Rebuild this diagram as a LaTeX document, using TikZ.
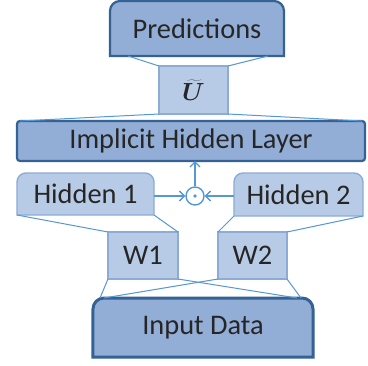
\documentclass[tikz,border=0pt]{standalone}
\usepackage{fontspec}
\setmainfont{Carlito}
\usetikzlibrary{arrows.meta,backgrounds}
\definecolor{darkfill}{RGB}{146,173,214}
\definecolor{darkline}{RGB}{52,98,148}
\definecolor{lightfill}{RGB}{184,203,230}
\definecolor{lightline}{RGB}{140,172,214}
\definecolor{conn}{RGB}{86,152,212}
\newcommand\topround[3]{\path[#2] (#1.south west) -- ([yshift=-#3]#1.north west) arc[start angle=180,end angle=90,radius=#3] -- ([xshift=-#3]#1.north east) arc[start angle=90,end angle=0,radius=#3] -- (#1.south east) -- cycle;}
\begin{document}
\begin{tikzpicture}[x=1bp,y=-1bp,
  box/.style={inner sep=0pt,outer sep=0pt,font=\fontsize{28.5}{31}\selectfont,text=black!85},
  ubox/.style={box,font=\fontsize{24}{28}\selectfont\mathversion{bold}},
  darkbox/.style={fill=darkfill,draw=darkline,line width=2.2bp},
  lightbox/.style={fill=lightfill,draw=lightline,line width=1.4bp},
  conline/.style={draw=conn,line width=1bp},
  arr/.style={draw=conn,line width=1.4bp,-{Straight Barb[length=5bp,width=10bp]}}]
\useasboundingbox (0,0) rectangle (368,366);
\node[box,minimum width=174bp,minimum height=55bp] (pred) at (197,28.5) {Predictions};
\node[ubox,minimum width=69bp,minimum height=48bp] (u) at (193.5,90) {$\widetilde{U}$};
\node[box,minimum width=348bp,minimum height=40bp] (impl) at (191,141) {Implicit Hidden Layer};
\node[box,minimum width=137bp,minimum height=42bp] (h1) at (85.5,194) {Hidden 1};
\node[box,minimum width=129bp,minimum height=43bp] (h2) at (298.5,194.5) {Hidden 2};
\node[circle,draw=conn,line width=1.4bp,minimum size=18bp,inner sep=0pt] (dot) at (195,196) {};
\fill[conn] (dot.center) circle (1.8bp);
\node[box,minimum width=70bp,minimum height=47bp] (w1) at (143,255.5) {W1};
\node[box,minimum width=69bp,minimum height=47bp] (w2) at (252.5,255.5) {W2};
\node[box,minimum width=220bp,minimum height=59bp] (inp) at (203,327.5) {Input Data};
\begin{pgfonlayer}{background}
\fill[white] (0,0) rectangle (368,366);
\topround{pred}{darkbox}{10bp}
\path[lightbox] (u.south west) rectangle (u.north east);
\path[darkbox,rounded corners=3bp] (impl.south west) rectangle (impl.north east);
\topround{h1}{lightbox}{9bp}
\topround{h2}{lightbox}{9bp}
\path[lightbox] (w1.south west) rectangle (w1.north east);
\path[lightbox] (w2.south west) rectangle (w2.north east);
\topround{inp}{darkbox,line width=3bp}{11bp}
\end{pgfonlayer}
\draw[conline] ([xshift=18bp]pred.south west) -- (u.north west);
\draw[conline] ([xshift=-16bp]pred.south east) -- (u.north east);
\draw[conline] (u.south west) -- ([xshift=3bp]impl.north west);
\draw[conline] (u.south east) -- ([xshift=-3bp]impl.north east);
\draw[conline] (h1.south west) -- (w1.north west);
\draw[conline] (h1.south east) -- (w1.north east);
\draw[conline] (h2.south west) -- (w2.north west);
\draw[conline] (h2.south east) -- (w2.north east);
\draw[conline] (w1.south west) -- ([xshift=7bp]inp.north west);
\draw[conline] (w2.south west) -- ([xshift=11bp]inp.north west);
\draw[conline] (w1.south east) -- ([xshift=-16bp]inp.north east);
\draw[conline] (w2.south east) -- ([xshift=-12bp]inp.north east);
\draw[arr] (h1.east |- dot) -- (dot.west);
\draw[arr] (h2.west |- dot) -- (dot.east);
\draw[arr] (dot.north) -- (dot |- impl.south);
\end{tikzpicture}
\end{document}
